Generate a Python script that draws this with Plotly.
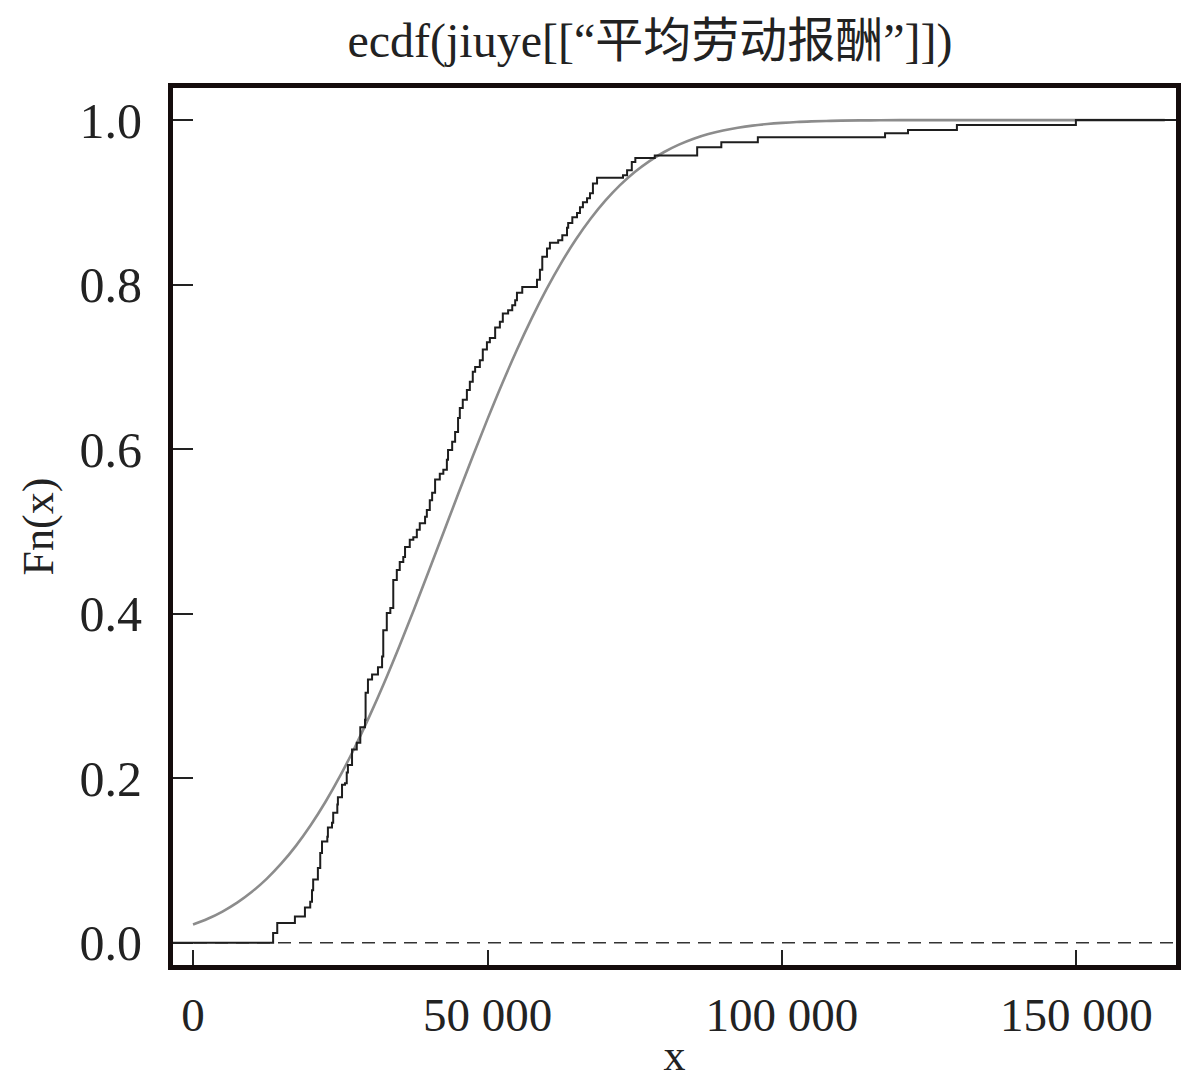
import plotly.graph_objects as go

# ---- data ----
# empirical CDF: jump locations (x) and the level Fn(x) reached at each jump
ecdf_x = [13600, 14300, 17300, 19000, 19900, 20200, 20400, 21200, 21600, 21900,
          22800, 22900, 23600, 23800, 24500, 24600, 25300, 25800, 26100, 26300,
          27000, 27800, 28400, 29200, 29300, 29700, 30400, 31400, 32100, 32300,
          32900, 33500, 34000, 34600, 35100, 35700, 36000, 36800, 37400, 38000,
          38500, 39400, 39700, 40200, 40600, 41100, 41900, 42500, 43100, 43300,
          44000, 44500, 45000, 45300, 45800, 46500, 47000, 47500, 47900, 48700,
          49200, 49900, 50400, 51300, 52100, 52600, 53500, 54200, 54700, 55000,
          55900, 58400, 58900, 59300, 60100, 60600, 62000, 62700, 63500, 63700,
          64400, 65200, 65700, 66200, 66900, 67400, 67900, 68600, 73000, 73700,
          74500, 75100, 78400, 85600, 89700, 95900, 117500, 121400, 129700, 149900]
ecdf_f = [0.012, 0.024, 0.032, 0.043, 0.050, 0.064, 0.077, 0.091, 0.109, 0.123,
          0.129, 0.140, 0.146, 0.158, 0.168, 0.177, 0.192, 0.194, 0.207, 0.216,
          0.235, 0.243, 0.262, 0.271, 0.304, 0.320, 0.326, 0.335, 0.348, 0.380,
          0.401, 0.407, 0.441, 0.453, 0.463, 0.469, 0.481, 0.490, 0.493, 0.502,
          0.510, 0.518, 0.526, 0.538, 0.547, 0.563, 0.570, 0.575, 0.587, 0.599,
          0.609, 0.621, 0.638, 0.650, 0.660, 0.672, 0.682, 0.694, 0.700, 0.708,
          0.721, 0.730, 0.735, 0.748, 0.755, 0.765, 0.769, 0.775, 0.781, 0.790,
          0.797, 0.806, 0.818, 0.834, 0.844, 0.851, 0.854, 0.860, 0.869, 0.875,
          0.882, 0.887, 0.894, 0.900, 0.905, 0.911, 0.923, 0.930, 0.933, 0.939,
          0.949, 0.954, 0.957, 0.967, 0.973, 0.979, 0.984, 0.988, 0.994, 1.000]

# smooth reference (normal) CDF curve
curve_x = [0, 2500, 5000, 7500, 10000, 12500, 15000, 17500, 20000, 22500, 25000,
           27500, 30000, 32500, 35000, 37500, 40000, 42500, 45000, 47500, 50000,
           52500, 55000, 57500, 60000, 62500, 65000, 67500, 70000, 72500, 75000,
           77500, 80000, 82500, 85000, 87500, 90000, 92500, 95000, 97500, 100000,
           102500, 105000, 107500, 110000, 115000, 120000, 130000, 145000, 165000]
curve_f = [0.0222, 0.0292, 0.0380, 0.0488, 0.0620, 0.0777, 0.0964, 0.1181, 0.1431,
           0.1714, 0.2031, 0.2380, 0.2761, 0.3168, 0.3599, 0.4049, 0.4512, 0.4981,
           0.5451, 0.5914, 0.6365, 0.6798, 0.7208, 0.7590, 0.7942, 0.8262, 0.8548,
           0.8800, 0.9020, 0.9209, 0.9369, 0.9502, 0.9612, 0.9701, 0.9773, 0.9830,
           0.9874, 0.9907, 0.9933, 0.9952, 0.9966, 0.9977, 0.9984, 0.9989, 0.9993,
           0.9997, 0.9999, 1.0000, 1.0000, 1.0000]

x_tickvals = [0, 50000, 100000, 150000]
x_ticktext = ["0", "50 000", "100 000", "150 000"]
y_tickvals = [0.0, 0.2, 0.4, 0.6, 0.8, 1.0]

title_text = "ecdf(jiuye[[“平均劳动报酬”]])"

# ---- layout settings ----
X_RANGE = [-3400, 166900]
Y_RANGE = [-0.027, 1.039]
FONT = "Liberation Serif, Times New Roman, Noto Sans CJK SC, serif"
FRAME = "#140c0c"

fig = go.Figure()

# step line extends to the plot edges like R's plot.ecdf
step_x = [X_RANGE[0]] + ecdf_x + [X_RANGE[1]]
step_f = [0.0] + ecdf_f + [ecdf_f[-1]]

fig.add_hline(y=0, line=dict(color="#333333", width=1.6, dash="13px,8px"), layer="below")

fig.add_trace(go.Scatter(
    x=curve_x, y=curve_f, mode="lines",
    line=dict(color="#8c8c8c", width=2.6, shape="spline", smoothing=1.0),
    showlegend=False, hoverinfo="skip"))

fig.add_trace(go.Scatter(
    x=step_x, y=step_f, mode="lines", line=dict(color="#1e1e1e", width=2, shape="hv"),
    showlegend=False))

fig.update_layout(
    width=1183, height=1080,
    margin=dict(l=173, r=7, t=88, b=115),
    paper_bgcolor="white", plot_bgcolor="white",
    font=dict(family=FONT, color="#222222"),
    title=dict(text=title_text, x=650 / 1183, xanchor="center", y=1 - 40 / 1080, yanchor="middle",
               xref="container", yref="container",
               font=dict(family=FONT, size=48, color="#222222")),
    showlegend=False,
)

fig.update_xaxes(
    range=X_RANGE, showgrid=False, zeroline=False, automargin=False,
    showline=True, linewidth=5, linecolor=FRAME, mirror=True,
    ticks="inside", ticklen=15, tickwidth=1.5, tickcolor="#222222",
    tickvals=x_tickvals, ticktext=x_ticktext,
    tickfont=dict(family=FONT, size=47, color="#222222"),
    ticklabelstandoff=5,
    title=dict(text="x", font=dict(family=FONT, size=44, color="#222222"), standoff=10),
)
fig.update_yaxes(
    range=Y_RANGE, showgrid=False, zeroline=False, automargin=False,
    showline=True, linewidth=5, linecolor=FRAME, mirror=True,
    ticks="inside", ticklen=20, tickwidth=1.5, tickcolor="#222222",
    tickvals=y_tickvals, tickformat=".1f",
    tickfont=dict(family=FONT, size=50, color="#222222"),
    ticklabelstandoff=16,
    title=dict(text="Fn(x)", font=dict(family=FONT, size=44, color="#222222"), standoff=14),
)

fig.write_html("out.html", config={"displayModeBar": False},
               post_script="document.body.style.margin='0';")
